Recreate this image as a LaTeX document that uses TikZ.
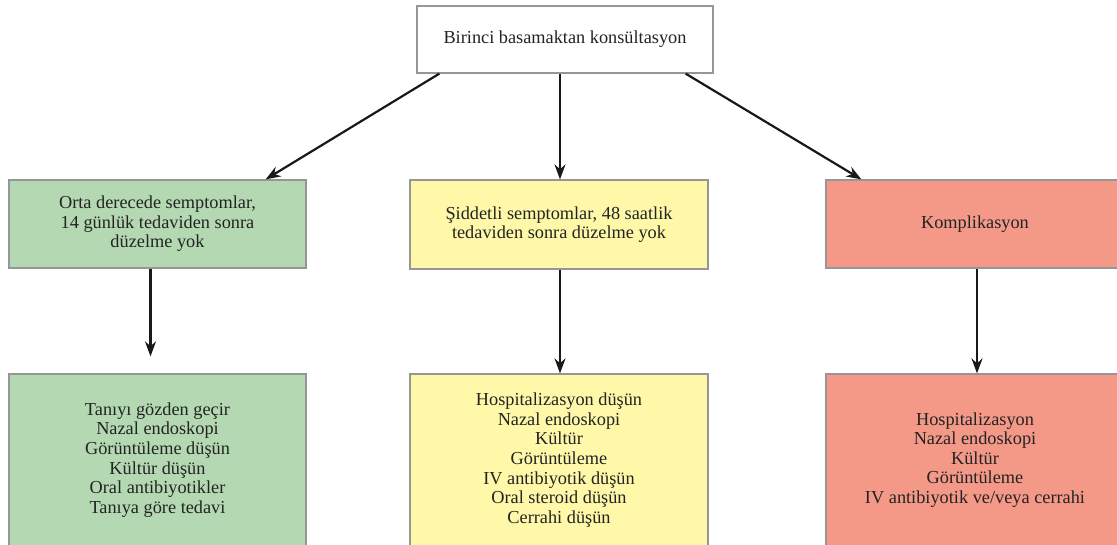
\documentclass[tikz,border=0pt]{standalone}
\usepackage{fontspec}
\setmainfont{Liberation Serif}
\usetikzlibrary{arrows.meta}
\definecolor{boxgreen}{RGB}{180,217,178}
\definecolor{boxyellow}{RGB}{255,248,168}
\definecolor{boxred}{RGB}{244,153,136}
\definecolor{edgegray}{RGB}{150,150,150}
\definecolor{inkgray}{RGB}{35,35,35}
\tikzset{
  flowbox/.style={draw=edgegray, line width=1.2pt, rectangle, align=center,
    text=inkgray, font=\fontsize{18.3}{19.6}\selectfont, inner sep=0pt},
  arr/.style={draw=black!90, line width=2.2pt, -{Stealth[length=15pt,width=11pt]}}
}
\begin{document}
\begin{tikzpicture}[x=1pt,y=-1pt]
\useasboundingbox (0,0) rectangle (1117,544);
% top level
\node[flowbox, fill=white, minimum width=296pt, minimum height=67pt] (top) at (565,39.5)
  {Birinci basamaktan konsültasyon};
% middle row
\node[flowbox, fill=boxgreen, minimum width=297pt, minimum height=88pt] (ml) at (157.5,224)
  {Orta derecede semptomlar,\\14 günlük tedaviden sonra\\düzelme yok};
\node[flowbox, fill=boxyellow, minimum width=298pt, minimum height=89pt] (mm) at (559,224.5)
  {Şiddetli semptomlar, 48 saatlik\\tedaviden sonra düzelme yok};
\node[flowbox, fill=boxred, minimum width=298pt, minimum height=88pt] (mr) at (975,224)
  {Komplikasyon};
% bottom row
\node[flowbox, fill=boxgreen, minimum width=297pt, minimum height=172pt] (bl) at (157.5,460)
  {Tanıyı gözden geçir\\Nazal endoskopi\\Görüntüleme düşün\\Kültür düşün\\Oral antibiyotikler\\Tanıya göre tedavi};
\node[flowbox, fill=boxyellow, minimum width=298pt, minimum height=172pt] (bm) at (559,460)
  {Hospitalizasyon düşün\\Nazal endoskopi\\Kültür\\Görüntüleme\\IV antibiyotik düşün\\Oral steroid düşün\\Cerrahi düşün};
\node[flowbox, fill=boxred, minimum width=298pt, minimum height=172pt] (br) at (975,460)
  {Hospitalizasyon\\Nazal endoskopi\\Kültür\\Görüntüleme\\IV antibiyotik ve/veya cerrahi};
% connectors
\draw[arr] ([xshift=23pt]top.south west) -- ([xshift=-41pt]ml.north east);
\draw[arr] ([xshift=-5pt]top.south) -- ([xshift=1pt]mm.north);
\draw[arr] ([xshift=-28pt]top.south east) -- ([xshift=36pt]mr.north west);
\draw[arr, shorten >=17pt] ([xshift=-7pt]ml.south) -- ([xshift=-7pt]bl.north);
\draw[arr] ([xshift=1pt]mm.south) -- ([xshift=1pt]bm.north);
\draw[arr] ([xshift=2pt]mr.south) -- ([xshift=2pt]br.north);
\end{tikzpicture}
\end{document}
